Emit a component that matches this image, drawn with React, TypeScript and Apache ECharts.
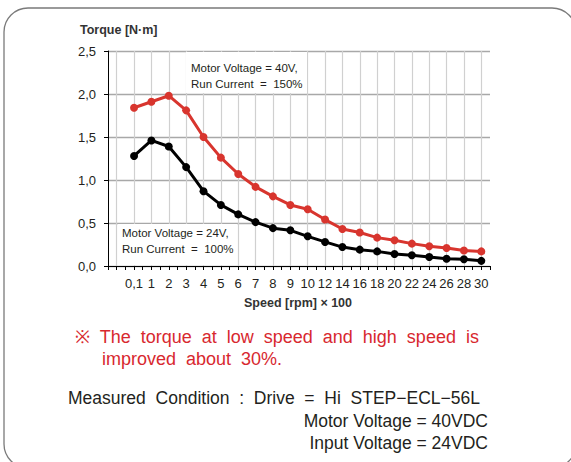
import React, { useEffect, useRef } from "react";
import * as echarts from "echarts";

const speeds = ["0,1", "1", "2", "3", "4", "5", "6", "7", "8", "9", "10", "12", "14", "16", "18", "20", "22", "24", "26", "28", "30"];
const categories = ["", ...speeds];
const torque40V = [1.84, 1.91, 1.98, 1.81, 1.5, 1.26, 1.07, 0.92, 0.81, 0.71, 0.66, 0.54, 0.43, 0.39, 0.33, 0.3, 0.26, 0.23, 0.21, 0.18, 0.17];
const torque24V = [1.28, 1.46, 1.39, 1.15, 0.87, 0.71, 0.6, 0.51, 0.44, 0.415, 0.345, 0.28, 0.22, 0.19, 0.17, 0.14, 0.125, 0.105, 0.085, 0.078, 0.06];
const yTicks = [0, 0.5, 1, 1.5, 2, 2.5];

const FONT = "'Liberation Sans', Arial, sans-serif";
const DARK = "#231f20";
const RED = "#d8352e";
const NOTE_RED = "#d8282f";

export default function App() {
  const ref = useRef<HTMLDivElement>(null);
  useEffect(() => {
    if (!ref.current) return;
    const chart = echarts.init(ref.current, null, { renderer: "svg" });
    const option = {
      animation: false,
      backgroundColor: "#ffffff",
      textStyle: { fontFamily: FONT },
      grid: { left: 108, right: 81, top: 51, bottom: 196, containLabel: false },
      xAxis: [
        {
          type: "category",
          data: categories,
          boundaryGap: true,
          axisLine: { show: true, lineStyle: { color: "#000", width: 1 } },
          axisTick: { show: false },
          axisLabel: { interval: 0, color: DARK, fontSize: 13, fontFamily: FONT, margin: 11 },
          splitLine: { show: true, interval: 0, alignWithLabel: true, lineStyle: { color: "#d0d0d0", width: 1.2 } },
        },
        {
          type: "value",
          min: 0,
          max: 44,
          interval: 1,
          position: "bottom",
          axisLine: { show: false },
          axisLabel: { show: false },
          splitLine: { show: false },
          axisTick: { show: true, length: 4, lineStyle: { color: "#000", width: 1 } },
        },
      ],
      yAxis: {
        type: "value",
        min: 0,
        max: 2.5,
        interval: 0.5,
        axisLine: { show: true, lineStyle: { color: "#000", width: 1 } },
        axisTick: { show: true, length: 4, lineStyle: { color: "#000" } },
        axisLabel: {
          color: DARK,
          fontSize: 13,
          fontFamily: FONT,
          margin: 12,
          formatter: (v: number) => {
            const t = yTicks.find((k) => Math.abs(k - v) < 1e-6);
            return (t !== undefined ? t : v).toFixed(1).replace(".", ",");
          },
        },
        splitLine: { show: true, lineStyle: { color: "#a8a8a8", width: 1.4 } },
      },
      graphic: [
        {
          type: "rect",
          shape: { x: 4, y: 8, width: 572, height: 460, r: 24 },
          style: { fill: "none", stroke: "#7a7a7a", lineWidth: 1.3 },
          z: 0,
        },
        { type: "rect", shape: { x: 186, y: 52, width: 121, height: 41 }, style: { fill: "#fff" }, z: 1 },
        { type: "rect", shape: { x: 118, y: 224, width: 119, height: 41 }, style: { fill: "#fff" }, z: 1 },
        {
          type: "text", x: 191, y: 62, z: 3,
          style: { text: "Motor Voltage = 40V,", font: `11.5px ${FONT}`, fill: DARK },
        },
        {
          type: "text", x: 191, y: 78, z: 3,
          style: { text: "Run Current  =  150%", font: `11.5px ${FONT}`, fill: DARK },
        },
        {
          type: "text", x: 122, y: 227, z: 3,
          style: { text: "Motor Voltage = 24V,", font: `11.5px ${FONT}`, fill: DARK },
        },
        {
          type: "text", x: 122, y: 243, z: 3,
          style: { text: "Run Current  =  100%", font: `11.5px ${FONT}`, fill: DARK },
        },
        {
          type: "text", x: 80, y: 23, z: 3,
          style: { text: "Torque [N·m]", font: `bold 12.5px ${FONT}`, fill: "#333" },
        },
        {
          type: "text", x: 244, y: 296, z: 3,
          style: { text: "Speed [rpm] × 100", font: `bold 12.5px ${FONT}`, fill: "#333" },
        },
        {
          type: "text", x: 75, y: 328, z: 3,
          style: { text: "※  The  torque  at  low  speed  and  high  speed  is", font: `18px ${FONT}`, fill: NOTE_RED },
        },
        {
          type: "text", x: 102, y: 350, z: 3,
          style: { text: "improved  about  30%.", font: `18px ${FONT}`, fill: NOTE_RED },
        },
        {
          type: "text", x: 68, y: 389, z: 3,
          style: { text: "Measured  Condition  :  Drive  =  Hi  STEP−ECL−56L", font: `17.5px ${FONT}`, fill: DARK },
        },
        {
          type: "text", x: 488, y: 412, z: 3,
          style: { text: "Motor Voltage = 40VDC", font: `17.5px ${FONT}`, fill: DARK, align: "right" },
        },
        {
          type: "text", x: 488, y: 434, z: 3,
          style: { text: "Input Voltage = 24VDC", font: `17.5px ${FONT}`, fill: DARK, align: "right" },
        },
      ],
      series: [
        {
          name: "40V",
          type: "line",
          xAxisIndex: 0,
          data: speeds.map((s, i) => [s, torque40V[i]]),
          symbol: "circle",
          symbolSize: 8,
          itemStyle: { color: RED },
          lineStyle: { color: RED, width: 3 },
          z: 5,
        },
        {
          name: "24V",
          type: "line",
          xAxisIndex: 0,
          data: speeds.map((s, i) => [s, torque24V[i]]),
          symbol: "circle",
          symbolSize: 8,
          itemStyle: { color: "#000" },
          lineStyle: { color: "#000", width: 3 },
          z: 5,
        },
      ],
    };
    chart.setOption(option as any);
    return () => chart.dispose();
  }, []);
  return <div ref={ref} style={{ position: "fixed", left: 0, top: 0, width: 571, height: 462 }} />;
}
